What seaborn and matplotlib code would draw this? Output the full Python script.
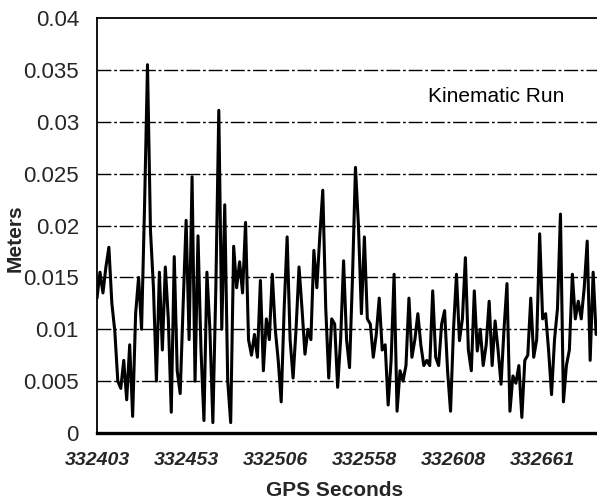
import numpy as np
import pandas as pd
import matplotlib
matplotlib.use("Agg")
import matplotlib.pyplot as plt
import seaborn as sns

# Error in metres (in thousandths of a metre)
error_mm = [
    13.0, 15.5, 13.5, 16.0, 17.9, 12.5, 9.8, 5.0, 4.3, 7.0,
    3.2, 8.5, 1.6, 11.5, 15.0, 10.0, 21.8, 35.5, 19.5, 14.0,
    5.0, 15.5, 8.0, 16.0, 11.0, 2.0, 17.0, 6.0, 3.8, 12.4,
    20.5, 9.0, 24.7, 5.0, 19.0, 8.0, 1.2, 15.5, 10.0, 1.0,
    14.0, 31.1, 10.0, 22.0, 5.0, 1.0, 18.0, 14.0, 16.5, 13.5,
    20.3, 9.0, 7.5, 9.5, 7.3, 14.7, 6.0, 11.0, 9.0, 15.3,
    10.0, 7.0, 3.0, 12.0, 18.9, 9.0, 5.3, 10.0, 16.0, 12.0,
    7.6, 10.0, 9.0, 17.6, 14.0, 19.0, 23.4, 12.0, 5.3, 11.0,
    10.5, 4.4, 9.0, 16.6, 9.0, 6.3, 15.0, 25.6, 20.0, 11.5,
    18.9, 11.0, 10.5, 7.3, 9.5, 13.0, 8.0, 8.5, 2.7, 7.0,
    15.3, 2.1, 6.0, 5.0, 6.5, 13.0, 7.3, 9.0, 11.5, 8.5,
    6.5, 7.0, 6.5, 13.7, 7.3, 6.5, 10.5, 11.8, 6.0, 2.1,
    10.0, 15.3, 8.9, 11.0, 16.9, 8.0, 6.0, 13.7, 7.9, 10.0,
    6.5, 8.5, 12.7, 6.5, 10.8, 8.0, 4.7, 10.0, 14.4, 2.1,
    5.5, 4.8, 6.5, 1.5, 7.0, 7.5, 13.0, 7.3, 9.0, 19.2,
    11.0, 11.5, 8.0, 3.7, 9.0, 12.0, 21.1, 3.0, 6.5, 8.0,
    15.3, 11.0, 12.7, 11.0, 14.0, 18.5, 7.0, 15.5, 9.5,
]
tick_index = [0, 30, 60, 90, 120, 150]
tick_labels = ["332403", "332453", "332506", "332558", "332608", "332661"]
y_ticks = [0, 0.005, 0.01, 0.015, 0.02, 0.025, 0.03, 0.035, 0.04]
y_tick_labels = ["0", "0.005", "0.01", "0.015", "0.02", "0.025", "0.03", "0.035", "0.04"]

df = pd.DataFrame({"sample": np.arange(len(error_mm)),
                   "meters": np.array(error_mm) / 1000.0})

sns.set_theme(style="white")
plt.rcParams["font.family"] = ["Liberation Sans", "DejaVu Sans"]

fig = plt.figure(figsize=(5.97, 5.03), dpi=100)
ax = fig.add_axes([97 / 597, 70 / 503, 500 / 597, 415 / 503])

for yv in y_ticks[1:-1]:
    ax.axhline(yv, color="black", lw=1.0, ls=(0, (10, 2, 2, 2)), zorder=1)

sns.lineplot(data=df, x="sample", y="meters", color="black", lw=2.2,
             ax=ax, zorder=3)

ax.set_xlim(0, 168.3)
ax.set_ylim(0, 0.04)
ax.set_yticks(y_ticks)
ax.set_yticklabels(y_tick_labels, fontsize=16)
ax.set_xticks(tick_index)
ax.set_xticklabels(tick_labels, fontsize=14, fontweight="bold",
                   fontstyle="italic")
ax.tick_params(axis="y", direction="out", length=4, width=1, color="black",
               pad=9)
ax.tick_params(axis="x", direction="inout", length=6, width=1, color="black",
               pad=11)

ax.set_xlabel("GPS Seconds", fontsize=15, fontweight="bold")
ax.set_ylabel("Meters", fontsize=15, fontweight="bold")
ax.xaxis.set_label_coords(0.476, -0.115)
ax.yaxis.set_label_coords(-0.145, 0.47)

for side in ["left", "top"]:
    ax.spines[side].set_color("black")
    ax.spines[side].set_linewidth(1.3)
ax.spines["bottom"].set_color("black")
ax.spines["bottom"].set_linewidth(2.4)
ax.spines["right"].set_visible(False)

ax.text(111.4, 0.0324, "Kinematic Run", fontsize=15, ha="left", va="center",
        color="black")

fig.savefig("out.png", dpi=100)
